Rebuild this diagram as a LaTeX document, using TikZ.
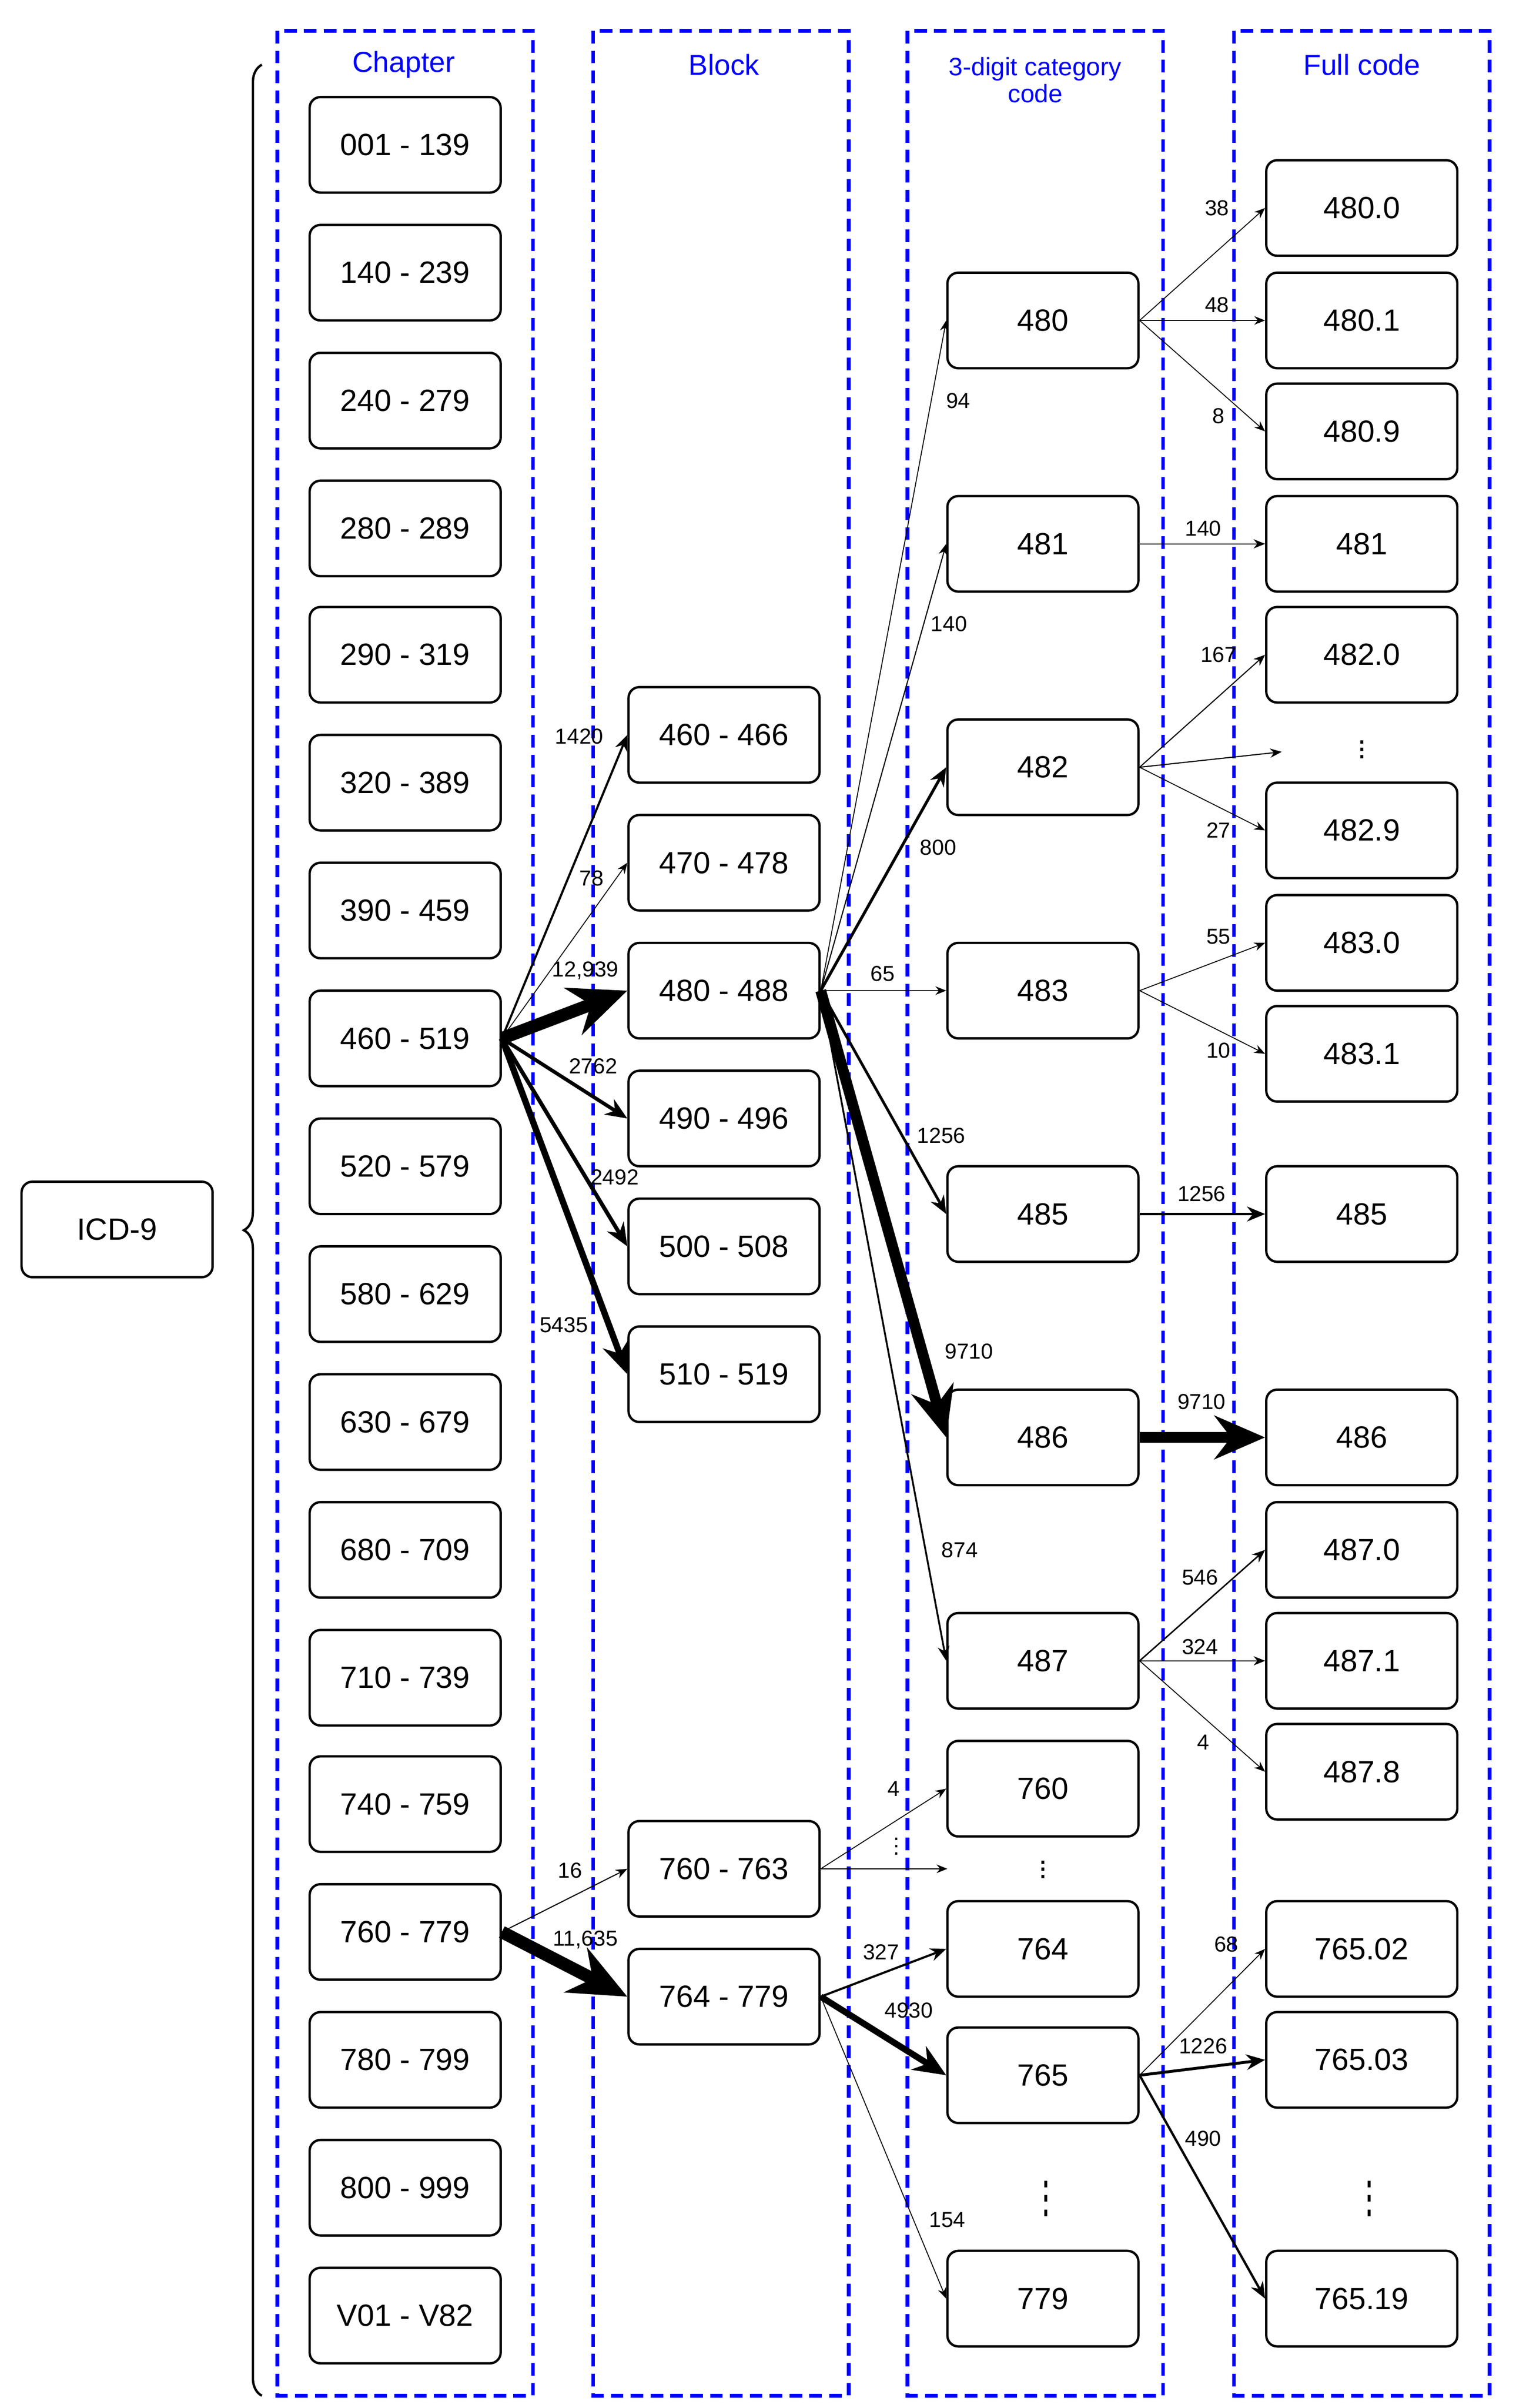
\documentclass[tikz,border=0pt]{standalone}
\usepackage{fontspec}
\setmainfont{Liberation Sans}
\usetikzlibrary{arrows.meta,decorations.pathreplacing}
\begin{document}
\begin{tikzpicture}[x=0.03cm,y=-0.03cm,
  box/.style={draw,rounded corners=6pt,line width=1.3pt,minimum width=3.72cm,minimum height=1.86cm,font=\fontsize{17}{20}\selectfont,inner sep=0pt},
  frame/.style={draw=blue,line width=2pt,dash pattern=on 7pt off 4pt},
  ttl/.style={text=blue,font=\fontsize{16}{17}\selectfont,align=center},
  lab/.style={font=\fontsize{12}{14}\selectfont,inner sep=1pt},
  a/.style={-{Stealth[length=4pt+4*#1,width=3pt+3.5*#1]},line width=#1},
  a/.default=0.7pt]
\useasboundingbox (0,0) rectangle (984,1563);
% frames
\draw[frame] (180,20) rectangle (346,1555);
\draw[frame] (385,20) rectangle (551,1555);
\draw[frame] (589,20) rectangle (755,1555);
\draw[frame] (801,20) rectangle (967,1555);
\node[ttl] (t1) at (262,42) {Chapter};
\node[ttl] (t2) at (470,42) {Block};
\node[ttl,font=\fontsize{14}{15}\selectfont] (t3) at (672,52) {3-digit category\\code};
\node[ttl] (t4) at (884,42) {Full code};
% root and brace
\node[box] (icd) at (76,798) {ICD-9};
\draw[line width=1.3pt,decorate,decoration={brace,amplitude=10pt}] (170,1555) -- (170,42);
% chapters
\foreach \i/\y/\t in {1/94/001 - 139,2/177/140 - 239,3/260/240 - 279,4/343/280 - 289,5/425/290 - 319,6/508/320 - 389,7/591/390 - 459,8/674/460 - 519,9/757/520 - 579,10/840/580 - 629,11/923/630 - 679,12/1006/680 - 709,13/1089/710 - 739,14/1171/740 - 759,15/1254/760 - 779,16/1337/780 - 799,17/1420/800 - 999,18/1503/V01 - V82}
  \node[box] (c\i) at (263,\y) {\t};
% blocks
\foreach \i/\y/\t in {1/477/460 - 466,2/560/470 - 478,3/643/480 - 488,4/726/490 - 496,5/809/500 - 508,6/892/510 - 519,7/1213/760 - 763,8/1296/764 - 779}
  \node[box] (b\i) at (470,\y) {\t};
% 3-digit
\foreach \n/\y in {480/208,481/353,482/498,483/643,485/788,486/933,487/1078,760/1161,764/1265,765/1347,779/1492}
  \node[box] (d\n) at (677,\y) {\n};
\node[font=\fontsize{17}{20}\selectfont,inner sep=0pt] (dd1) at (677,1210) {$\vdots$};
\node[font=\fontsize{17}{20}\selectfont,inner sep=0pt,yscale=2] (dd2) at (679,1420) {$\vdots$};
% full codes
\foreach \n/\y/\t in {a/135/480.0,b/208/480.1,c/280/480.9,d/353/481,e/425/482.0,f/539/482.9,g/612/483.0,h/684/483.1,i/788/485,j/933/486,k/1006/487.0,l/1078/487.1,m/1150/487.8,n/1265/765.02,o/1337/765.03,p/1492/765.19}
  \node[box] (f\n) at (884,\y) {\t};
\node[font=\fontsize{17}{20}\selectfont,inner sep=0pt] (fd1) at (884,483) {$\vdots$};
\node[font=\fontsize{17}{20}\selectfont,inner sep=0pt,yscale=2] (fd2) at (889,1420) {$\vdots$};
\coordinate (x482) at (832,488);
\coordinate (x763) at (615,1213);
\node[font=\fontsize{12}{14}\selectfont,inner sep=0pt] (sd) at (582,1195) {$\vdots$};
% chapter -> block
\draw[a=1.2pt] (c8.east) -- (b1.west);
\draw[a=0.5pt] (c8.east) -- (b2.west);
\draw[a=7pt] (c8.east) -- (b3.west);
\draw[a=2pt] (c8.east) -- (b4.west);
\draw[a=2.2pt] (c8.east) -- (b5.west);
\draw[a=3.5pt] (c8.east) -- (b6.west);
\draw[a=0.6pt] (c15.east) -- (b7.west);
\draw[a=7pt] (c15.east) -- (b8.west);
\node[lab] (l1) at (376,478) {1420};
\node[lab] (l2) at (384,570) {78};
\node[lab] (l3) at (380,630) {12,939};
\node[lab] (l4) at (385,692) {2762};
\node[lab] (l5) at (399,764) {2492};
\node[lab] (l6) at (366,860) {5435};
\node[lab] (l7) at (370,1214) {16};
\node[lab] (l8) at (380,1259) {11,635};
% block -> 3-digit
\draw[a=0.5pt] (b3.east) -- (d480.west);
\draw[a=0.6pt] (b3.east) -- (d481.west);
\draw[a=1.6pt] (b3.east) -- (d482.west);
\draw[a=0.5pt] (b3.east) -- (d483.west);
\draw[a=1.5pt] (b3.east) -- (d485.west);
\draw[a=6pt] (b3.east) -- (d486.west);
\draw[a=1pt] (b3.east) -- (d487.west);
\draw[a=0.5pt] (b7.east) -- (d760.west);
\draw[a=0.5pt] (b7.east) -- (x763);
\draw[a=1.2pt] (b8.east) -- (d764.west);
\draw[a=3.5pt] (b8.east) -- (d765.west);
\draw[a=0.5pt] (b8.east) -- (d779.west);
\node[lab] (m1) at (622,260) {94};
\node[lab] (m2) at (616,405) {140};
\node[lab] (m3) at (609,550) {800};
\node[lab] (m4) at (573,632) {65};
\node[lab] (m5) at (611,737) {1256};
\node[lab] (m6) at (629,877) {9710};
\node[lab] (m7) at (623,1006) {874};
\node[lab] (m8) at (580,1161) {4};
\node[lab] (m9) at (572,1267) {327};
\node[lab] (m10) at (590,1305) {4930};
\node[lab] (m11) at (615,1441) {154};
% 3-digit -> full
\draw[a=0.5pt] (d480.east) -- (fa.west);
\draw[a=0.5pt] (d480.east) -- (fb.west);
\draw[a=0.5pt] (d480.east) -- (fc.west);
\draw[a=0.6pt] (d481.east) -- (fd.west);
\draw[a=0.6pt] (d482.east) -- (fe.west);
\draw[a=0.6pt] (d482.east) -- (x482);
\draw[a=0.5pt] (d482.east) -- (ff.west);
\draw[a=0.5pt] (d483.east) -- (fg.west);
\draw[a=0.5pt] (d483.east) -- (fh.west);
\draw[a=1.5pt] (d485.east) -- (fi.west);
\draw[a=6pt] (d486.east) -- (fj.west);
\draw[a=0.8pt] (d487.east) -- (fk.west);
\draw[a=0.6pt] (d487.east) -- (fl.west);
\draw[a=0.5pt] (d487.east) -- (fm.west);
\draw[a=0.5pt] (d765.east) -- (fn.west);
\draw[a=1.6pt] (d765.east) -- (fo.west);
\draw[a=1.3pt] (d765.east) -- (fp.west);
\node[lab] (n1) at (790,135) {38};
\node[lab] (n2) at (790,198) {48};
\node[lab] (n3) at (791,270) {8};
\node[lab] (n4) at (781,343) {140};
\node[lab] (n5) at (791,425) {167};
\node[lab] (n6) at (791,539) {27};
\node[lab] (n7) at (791,608) {55};
\node[lab] (n8) at (791,682) {10};
\node[lab] (n9) at (780,775) {1256};
\node[lab] (n10) at (780,910) {9710};
\node[lab] (n11) at (779,1024) {546};
\node[lab] (n12) at (779,1069) {324};
\node[lab] (n13) at (781,1131) {4};
\node[lab] (n14) at (796,1262) {68};
\node[lab] (n15) at (781,1328) {1226};
\node[lab] (n16) at (781,1388) {490};
\end{tikzpicture}
\end{document}
